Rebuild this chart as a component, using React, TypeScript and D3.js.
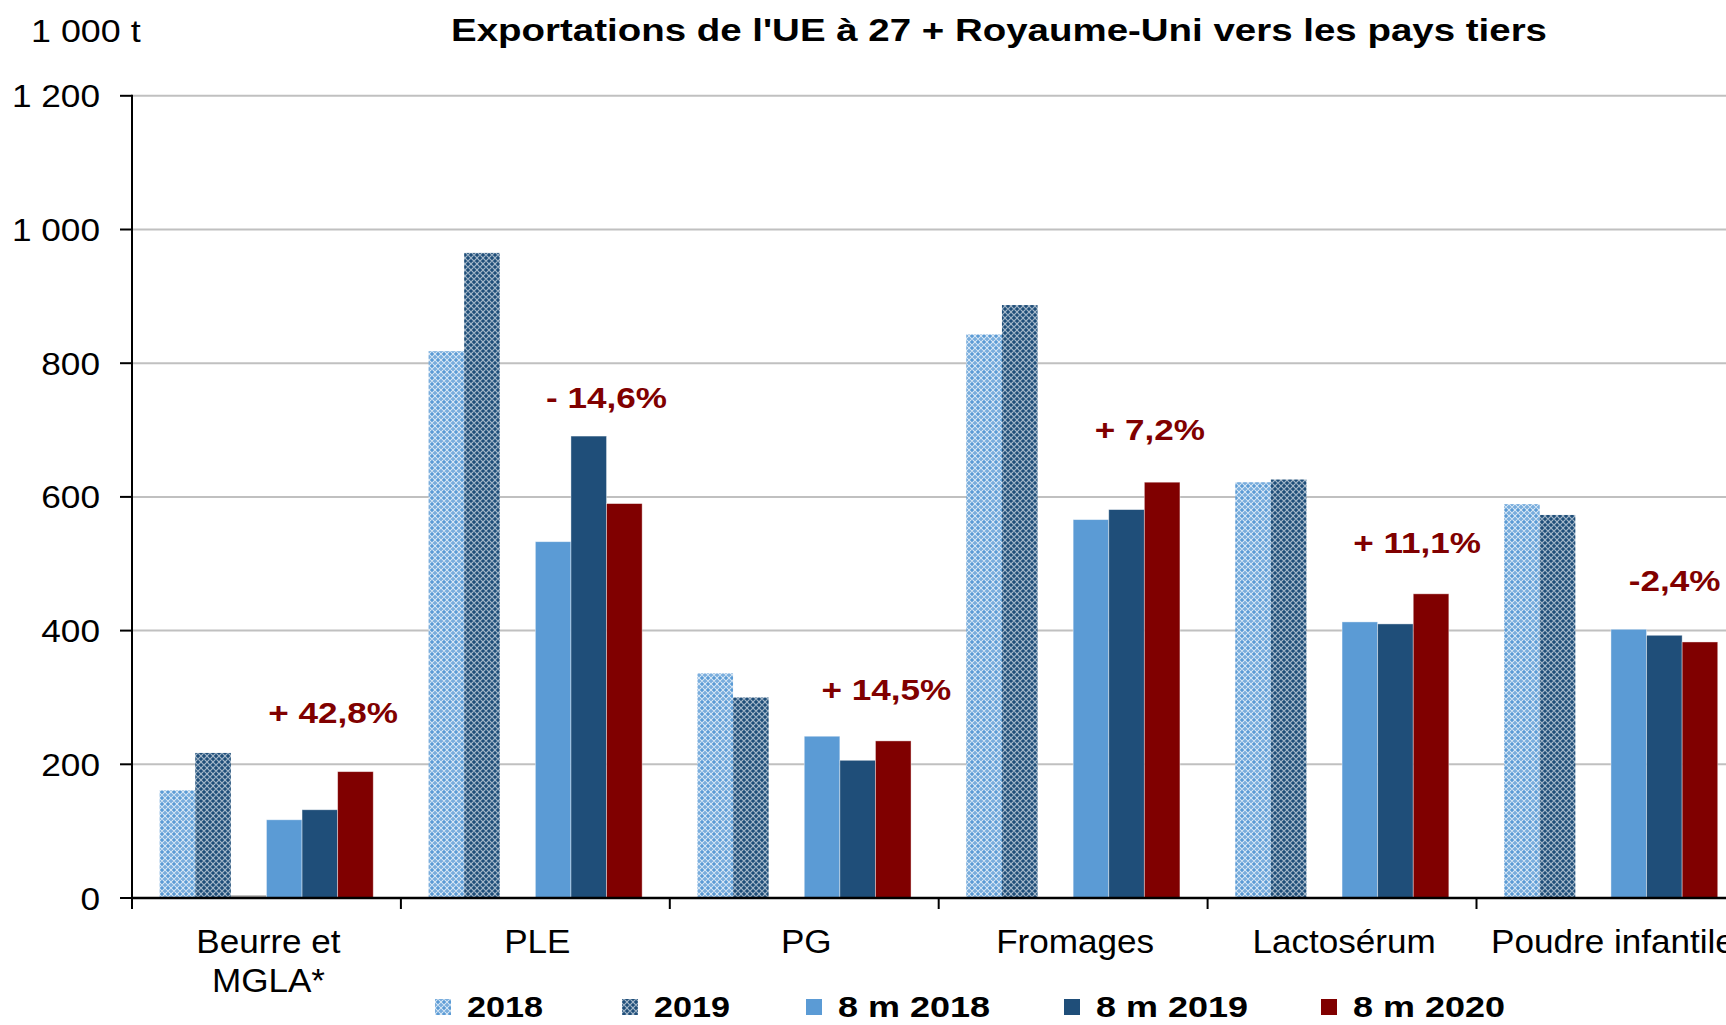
import React from "react";
import * as d3 from "d3";

const categories = ["Beurre et\nMGLA*", "PLE", "PG", "Fromages", "Lactosérum", "Poudre infantile"];
const seriesNames = ["2018", "2019", "", "8 m 2018", "8 m 2019", "8 m 2020"];
const v2018 = [161, 818, 336, 843, 622, 589];
const v2019 = [217, 965, 300, 887, 626, 573];
const vSpacer = [4, 0, 0, 0, 0, 0];
const m2018 = [117, 533, 242, 566, 413, 402];
const m2019 = [132, 691, 206, 581, 410, 393];
const m2020 = [189, 590, 235, 622, 455, 383];
const yTicks = [0, 200, 400, 600, 800, 1000, 1200];
const yTickLabels = ["0", "200", "400", "600", "800", "1 000", "1 200"];
const changeLabels = ["+ 42,8%", "- 14,6%", "+ 14,5%", "+ 7,2%", "+ 11,1%", "-2,4%"];
const changeAnchorValues = [262, 733, 296, 685, 516, 459];
const changeDx = [-4.6, 0, 11, 5.4, 3.8, -7.6];

const W = 1726;
const H = 1025;
const X0 = 132;
const BAND = 268.9;
const Y0 = 898;
const Y1 = 95.8;

const fills = ["url(#p2018)", "url(#p2019)", "#A6A6A6", "#5B9BD5", "#1F4E79", "#800000"];
const FONT = "Liberation Sans, Arial, Helvetica, sans-serif";

export default function App() {
  const seriesValues = [v2018, v2019, vSpacer, m2018, m2019, m2020];
  const x = d3.scaleBand<string>().domain(categories).range([X0, X0 + BAND * categories.length]).paddingInner(0).paddingOuter(0);
  const xs = d3.scaleBand<number>().domain(d3.range(6)).range([0, BAND]).paddingInner(0).paddingOuter(0.777);
  const y = d3.scaleLinear().domain([0, 1200]).range([Y0, Y1]);

  const legendItems = [0, 1, 3, 4, 5];
  const legendX = [435, 622, 806, 1064, 1321];

  return (
    <svg width={W} height={H} style={{ position: "absolute", left: 0, top: 0, display: "block", background: "#fff" }} fontFamily={FONT}>
      <defs>
        <pattern id="p2018" width="6" height="6" patternUnits="userSpaceOnUse">
          <rect width="6" height="6" fill="#5B9BD5" />
          <path d="M0,3 L3,0 L6,3 L3,6 Z" fill="none" stroke="#ffffff" strokeWidth="1.1" strokeOpacity="0.75" />
          <rect x="2.4" y="2.4" width="1.2" height="1.2" fill="#ffffff" fillOpacity="0.5" />
        </pattern>
        <pattern id="p2019" width="6" height="6" patternUnits="userSpaceOnUse">
          <rect width="6" height="6" fill="#1F4E79" />
          <path d="M0,3 L3,0 L6,3 L3,6 Z" fill="none" stroke="#ffffff" strokeWidth="1.1" strokeOpacity="0.6" />
        </pattern>
      </defs>
      <rect width={W} height={H} fill="#fff" />

      {/* gridlines */}
      {yTicks.slice(1).map((t) => (
        <line key={"g" + t} x1={X0} x2={W} y1={y(t)} y2={y(t)} stroke="#C0C0C0" strokeWidth={2} />
      ))}

      {/* bars */}
      {categories.map((c, ci) =>
        seriesValues.map((vals, si) => {
          const v = vals[ci];
          if (!v) return null;
          const bx = (x(c) as number) + (xs(si) as number);
          return (
            <rect key={c + si} x={bx} y={y(v)} width={xs.bandwidth()} height={Y0 - y(v)} fill={fills[si]} stroke={si >= 3 ? "#ffffff" : "none"} strokeOpacity={0.5} strokeWidth={0.8} />
          );
        })
      )}

      {/* y axis */}
      <line x1={X0} x2={X0} y1={Y1 - 1} y2={Y0} stroke="#000" strokeWidth={2} />
      {yTicks.map((t, i) => (
        <g key={"t" + t}>
          <line x1={X0 - 12} x2={X0} y1={y(t)} y2={y(t)} stroke="#000" strokeWidth={2} />
          <text transform={`translate(100,${y(t) + 11.5}) scale(1.1,1)`} textAnchor="end" fontSize={32} fill="#000">
            {yTickLabels[i]}
          </text>
        </g>
      ))}

      {/* x axis */}
      <line x1={X0} x2={W} y1={Y0} y2={Y0} stroke="#000" strokeWidth={2.7} />
      {d3.range(categories.length + 1).map((i) => (
        <line key={"xt" + i} x1={X0 + i * BAND} x2={X0 + i * BAND} y1={Y0} y2={Y0 + 11} stroke="#000" strokeWidth={2} />
      ))}
      {categories.map((c) => {
        const cx = (x(c) as number) + x.bandwidth() / 2 + 2;
        return c.split("\n").map((line, li) => (
          <text key={c + li} transform={`translate(${cx},${953 + li * 39}) scale(1.08,1)`} textAnchor="middle" fontSize={32.5} fill="#000">
            {line}
          </text>
        ));
      })}

      {/* change annotations */}
      {categories.map((c, ci) => {
        const ax = (x(c) as number) + (xs(5) as number) + changeDx[ci];
        return (
          <text key={"a" + ci} transform={`translate(${ax},${y(changeAnchorValues[ci])}) scale(1.17,1)`} textAnchor="middle" fontSize={30} fontWeight="bold" fill="#800000">
            {changeLabels[ci]}
          </text>
        );
      })}

      {/* unit label */}
      <text transform="translate(31,41.5) scale(1.12,1)" fontSize={32} fill="#000">1 000 t</text>

      {/* title */}
      <text x={451} y={41} fontSize={31} fontWeight="bold" fill="#000" textLength={1096} lengthAdjust="spacingAndGlyphs">
        Exportations de l'UE à 27 + Royaume-Uni vers les pays tiers
      </text>

      {/* legend */}
      {legendItems.map((si, i) => (
        <g key={"l" + si}>
          <rect x={legendX[i]} y={999} width={16} height={16} fill={fills[si]} />
          <text x={legendX[i] + 32} y={1017} fontSize={29} fontWeight="bold" fill="#000" textLength={seriesNames[si].length === 4 ? 76 : 152} lengthAdjust="spacingAndGlyphs">
            {seriesNames[si]}
          </text>
        </g>
      ))}
    </svg>
  );
}
